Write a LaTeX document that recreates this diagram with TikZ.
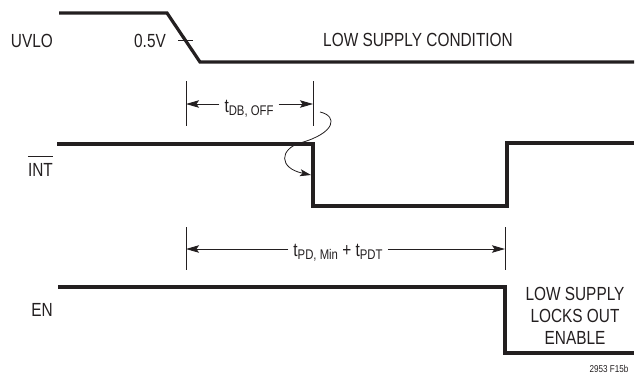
\documentclass[tikz,border=0pt]{standalone}
\usepackage{fontspec}
\setmainfont{Liberation Sans}[FakeStretch=0.81]
\usepackage{xcolor}
\usepackage{tikz}
\usetikzlibrary{arrows.meta}
\definecolor{ink}{HTML}{231F20}
\def\wireW{3.2pt}
\def\fineW{0.9pt}
\newcommand{\tsub}[1]{\raisebox{-3pt}{\fontsize{14}{14}\selectfont #1}}

\begin{document}
\begin{tikzpicture}[
    x=1pt, y=-1pt,
    >={Stealth[length=13pt,width=7.5pt,inset=2.5pt]},
    wave/.style={line width=\wireW, draw=ink, line join=miter},
    marker/.style={line width=\fineW, draw=ink},
    every node/.style={text=ink, inner sep=0pt, font=\fontsize{19}{22}\selectfont}
]
\useasboundingbox (0,0) rectangle (636,376);

% signal names
\node[anchor=east] (uvlo) at (53,41) {UVLO};
\node[anchor=east] (int) at (53,170) {INT};
\node[anchor=east] (en) at (53,310) {EN};
\draw[line width=1.3pt, ink] ([yshift=7pt]int.north west) -- ([yshift=7pt]int.north east);

% UVLO
\draw[wave] (59,13) -- (167,13) -- (200,62) -- (634,62);
\draw[marker] (178,40) -- (193,40);
\node (half) at (150,41) {0.5V};
\node (low) at (418,40) {LOW SUPPLY CONDITION};

% INT
\draw[wave] (57,144) -- (313,144) -- (313,206) -- (507,206) -- (507,143) -- (634,143);

% EN
\draw[wave] (58,287) -- (505,287) -- (505,353) -- (634,353);
\node[anchor=north, align=center] (lock) at (575,287) {LOW SUPPLY\\LOCKS OUT\\ENABLE};

% debounce time
\coordinate (dbA) at (186,104);
\coordinate (dbB) at (313,104);
\draw[marker] (186,81) -- (186,126);
\draw[marker] (313,81) -- (313,126);
\node[anchor=base, inner xsep=5pt] (tdb) at (249,112) {t\tsub{DB, OFF}};
\draw[marker, ->] (tdb.west |- dbA) -- (dbA);
\draw[marker, ->] (tdb.east |- dbB) -- (dbB);

% delay time
\coordinate (pdA) at (186,249);
\coordinate (pdB) at (505,249);
\draw[marker] (186,227) -- (186,270);
\draw[marker] (505,227) -- (505,270);
\node[anchor=base, inner xsep=5pt] (tpd) at (338,256) {t\tsub{PD, Min} + t\tsub{PDT}};
\draw[marker, ->] (tpd.west |- pdA) -- (pdA);
\draw[marker, ->] (tpd.east |- pdB) -- (pdB);

% cause
\coordinate (cs) at (320,112);
\coordinate (ce) at (311,175);
\draw[line width=0.8pt, ink, -{Stealth[length=11pt,width=7pt,inset=2.5pt]}]
    (cs) .. controls (338,116) and (336,133) .. (300,143)
    .. controls (280,149) and (278,168) .. (ce);

\node[font=\fontsize{10}{12}\selectfont] (fig) at (609,369) {2953 F15b};
\end{tikzpicture}
\end{document}
